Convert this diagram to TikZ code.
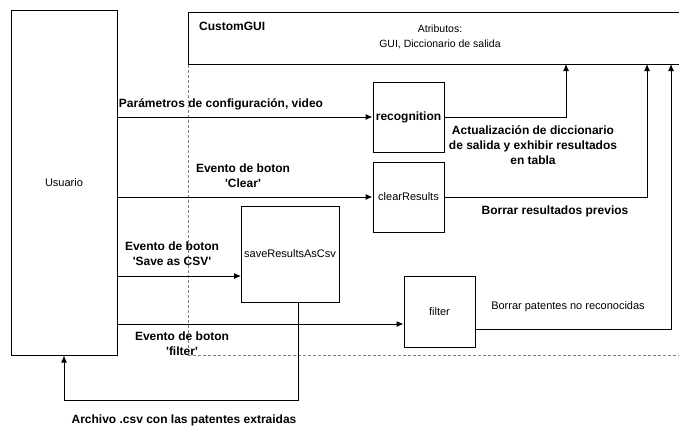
\documentclass[tikz,border=0pt]{standalone}
\usepackage{fontspec}
\setmainfont{Liberation Sans}
\usetikzlibrary{arrows.meta}

\begin{document}
\begin{tikzpicture}[
	x = 1pt, y = -1pt,
	font = \fontsize{11}{15}\selectfont,
	box/.style = {draw, line width=1pt, inner sep=0pt, align=center},
	flow/.style = {line width=1pt, -{Latex[length=7pt,width=6pt]}},
	lbl/.style = {font=\fontsize{12}{15}\selectfont\bfseries, align=center, inner sep=0pt},
	note/.style = {align=center, inner sep=0pt},
	lifeline/.style = {draw=gray, line width=1pt, dash pattern=on 3pt off 2pt}
	]
	\useasboundingbox (0,0) rectangle (679,428);
	\clip (0,0) rectangle (679,428);
	
	% actor and the gui class
	\node [box, minimum width=106pt, minimum height=344pt] (usuario) at (64,183) {Usuario};
	\node [box, minimum width=494pt, minimum height=52pt, anchor=north west] (gui) at (188,12) {};
	\node [lbl, anchor=west] (guiname) at (199,26) {CustomGUI};
	\node [note, font=\fontsize{10.5}{15}\selectfont] (attrs) at (440,37) {Atributos:\\GUI, Diccionario de salida};
	\draw [lifeline] (gui.south west) -- (188,355) -- (682,355);
	
	% methods
	\node [box, lbl, minimum width=71pt, minimum height=70pt] (recognition) at (408.5,117) {recognition};
	\node [box, minimum width=71pt, minimum height=70pt] (clear) at (408.5,197) {clearResults};
	\node [box, minimum width=98pt, minimum height=96pt] (save) at (290,254) {saveResultsAsCsv};
	\node [box, minimum width=71pt, minimum height=71pt] (filter) at (439.5,311.5) {filter};
	
	% targets on the gui
	\coordinate (upRec) at (566,64);
	\coordinate (upClear) at (647,64);
	\coordinate (upFilter) at (671,64);
	\coordinate (saveIn) at (241,276);
	
	% calls from the user
	\draw [flow] (recognition.west -| usuario.east) -- (recognition.west);
	\draw [flow] (clear.west -| usuario.east) -- (clear.west);
	\draw [flow] (saveIn -| usuario.east) -- (saveIn);
	\draw [flow] ([yshift=-12.5pt]filter.west -| usuario.east) -- ([yshift=-12.5pt]filter.west);
	
	% results back
	\draw [flow] (recognition.east) -| (upRec);
	\draw [flow] (clear.east) -| (upClear);
	\draw [flow] ([yshift=-17.5pt]filter.east) -| (upFilter);
	\draw [flow] ([xshift=8pt]save.south) -- ++(0,98) -| (usuario.south);
	
	% labels
	\node [lbl] (lParam) at (221,104) {Parámetros de configuración, video};
	\node [lbl] (lClear) at (243,176) {Evento de boton\\\textquotesingle Clear\textquotesingle};
	\node [lbl] (lSave) at (172,254) {Evento de boton\\\textquotesingle Save as CSV\textquotesingle};
	\node [lbl] (lFilter) at (182,344) {Evento de boton\\\textquotesingle filter\textquotesingle};
	\node [lbl] (lUpdate) at (533,145) {Actualización de diccionario\\de salida y exhibir resultados\\en tabla};
	\node [lbl] (lBorrar) at (555,211) {Borrar resultados previos};
	\node [note] (lPatentes) at (568,307) {Borrar patentes no reconocidas};
	\node [lbl] (lCsv) at (184,420) {Archivo .csv con las patentes extraidas};
\end{tikzpicture}
\end{document}
